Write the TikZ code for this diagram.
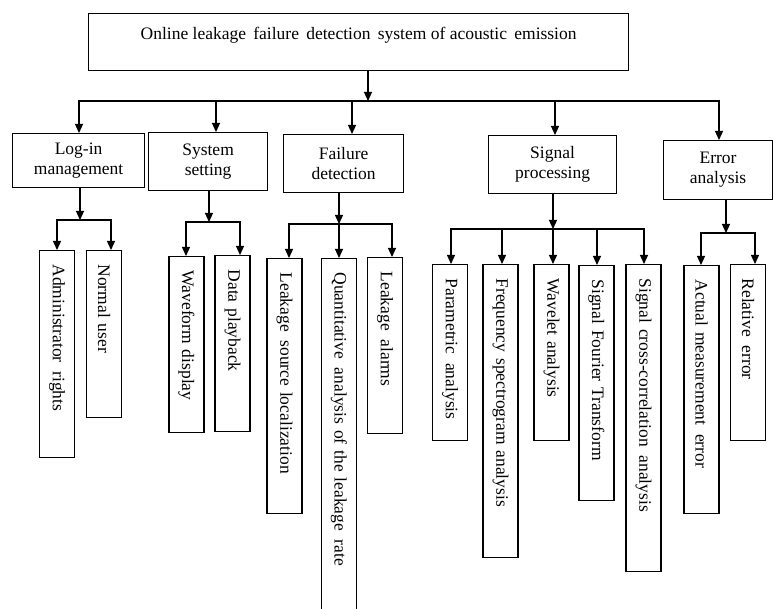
\documentclass[tikz,border=0pt]{standalone}
\usepackage{fontspec}
\setmainfont{Liberation Serif}
\usetikzlibrary{arrows.meta}
\begin{document}
\begin{tikzpicture}[x=1pt,y=-1pt,
  every node/.style={font=\fontsize{17.5}{20}\selectfont},
  tip/.tip={Triangle[width=8pt,length=9pt]},
  ln/.style={line width=1.2pt},
  arr/.style={line width=1.2pt,-{tip}},
  darr/.style={line width=1.2pt,{tip}-{tip}},
  hbox/.style={draw,line width=1.2pt,anchor=north west,align=center,inner sep=0pt},
  vbox/.style={draw,line width=1.2pt,rotate=-90,anchor=west,align=left,inner xsep=14pt,inner ysep=0pt,minimum height=35pt}]
\clip (0,0) rectangle (773,609);
% top box
\node[draw,line width=1.2pt,anchor=north west,minimum width=540pt,inner ysep=0pt,text height=26pt,text depth=31pt] (top) at (88,13)
  {Online leakage\, failure\, detection\, system of acoustic\, emission};
% level 1
\node[hbox,minimum width=132pt,minimum height=54pt] (log) at (12,133) {Log-in\\management};
\node[hbox,minimum width=119pt,minimum height=58pt] (sys) at (148,132) {System\\setting};
\node[hbox,minimum width=120pt,minimum height=58pt] (fail) at (283,134) {Failure\\detection};
\node[hbox,minimum width=128pt,minimum height=58pt] (sig) at (488,135) {Signal\\processing};
\node[hbox,minimum width=109pt,minimum height=59pt] (err) at (663,140) {Error\\analysis};
% level 2
\node[vbox,text width=179pt] (adm) at (57,250) {Administrator\, rights};
\node[vbox,text width=139pt] (usr) at (104,250) {Normal user};
\node[vbox,text width=148pt] (wav) at (186.5,256) {Waveform display};
\node[vbox,text width=148pt] (dat) at (232.5,255) {Data playback};
\node[vbox,text width=227pt] (lsl) at (284.5,258) {Leakage\, source localization};
\node[vbox,text width=344pt] (qua) at (339,258) {Quantitative\, analysis of the leakage\, rate};
\node[vbox,text width=148pt] (alm) at (385,257) {Leakage\, alarms};
\node[vbox,text width=148pt] (par) at (450,264) {Parametric\, analysis};
\node[vbox,text width=265pt] (frq) at (500.5,264) {Frequency spectrogram analysis};
\node[vbox,text width=148pt] (wvl) at (551.5,264) {Wavelet analysis};
\node[vbox,text width=207pt] (fft) at (596.5,265) {Signal Fourier Transform};
\node[vbox,text width=279pt] (xcr) at (643.5,264) {Signal cross-correlation\, analysis};
\node[vbox,text width=220pt] (act) at (701.5,265) {Actual measurement\, error};
\node[vbox,text width=148pt] (rel) at (748,264) {Relative\, error};
% main bus
\coordinate (bus) at (368,101);
\coordinate (b1) at (79,101);
\coordinate (b2) at (216,101);
\coordinate (b3) at (352,101);
\coordinate (b4) at (555,101);
\coordinate (b5) at (719,101);
\draw[arr] (bus |- top.south) -- (bus);
\draw[darr] (b1 |- log.north) -- (b1) -- (b5) -- (b5 |- err.north);
\draw[arr] (b2) -- (b2 |- sys.north);
\draw[arr] (b3) -- (b3 |- fail.north);
\draw[arr] (b4) -- (b4 |- sig.north);
% log-in group
\coordinate (s1) at (80,220);
\coordinate (c11) at (57,220);
\coordinate (c12) at (111,220);
\draw[arr] (s1 |- log.south) -- (s1);
\draw[darr] (c11 |- adm.west) -- (c11) -- (c12) -- (c12 |- usr.west);
% system group
\coordinate (s2) at (209,222);
\coordinate (c21) at (186,222);
\coordinate (c22) at (240,222);
\draw[arr] (s2 |- sys.south) -- (s2);
\draw[darr] (c21 |- wav.west) -- (c21) -- (c22) -- (c22 |- dat.west);
% failure group
\coordinate (s3) at (339,224);
\coordinate (c31) at (289,224);
\coordinate (c33) at (392,224);
\draw[arr] (s3 |- fail.south) -- (s3);
\draw[darr] (c31 |- lsl.west) -- (c31) -- (c33) -- (c33 |- alm.west);
\draw[arr] (s3) -- (s3 |- qua.west);
% signal group
\coordinate (s4) at (553,229);
\coordinate (c41) at (451,229);
\coordinate (c42) at (502,229);
\coordinate (c44) at (597,229);
\coordinate (c45) at (644,229);
\draw[arr] (s4 |- sig.south) -- (s4);
\draw[darr] (c41 |- par.west) -- (c41) -- (c45) -- (c45 |- xcr.west);
\draw[arr] (c42) -- (c42 |- frq.west);
\draw[arr] (s4) -- (s4 |- wvl.west);
\draw[arr] (c44) -- (c44 |- fft.west);
% error group
\coordinate (s5) at (726,233);
\coordinate (c51) at (701,233);
\coordinate (c52) at (755,233);
\draw[arr] (s5 |- err.south) -- (s5);
\draw[darr] (c51 |- act.west) -- (c51) -- (c52) -- (c52 |- rel.west);
\end{tikzpicture}
\end{document}
